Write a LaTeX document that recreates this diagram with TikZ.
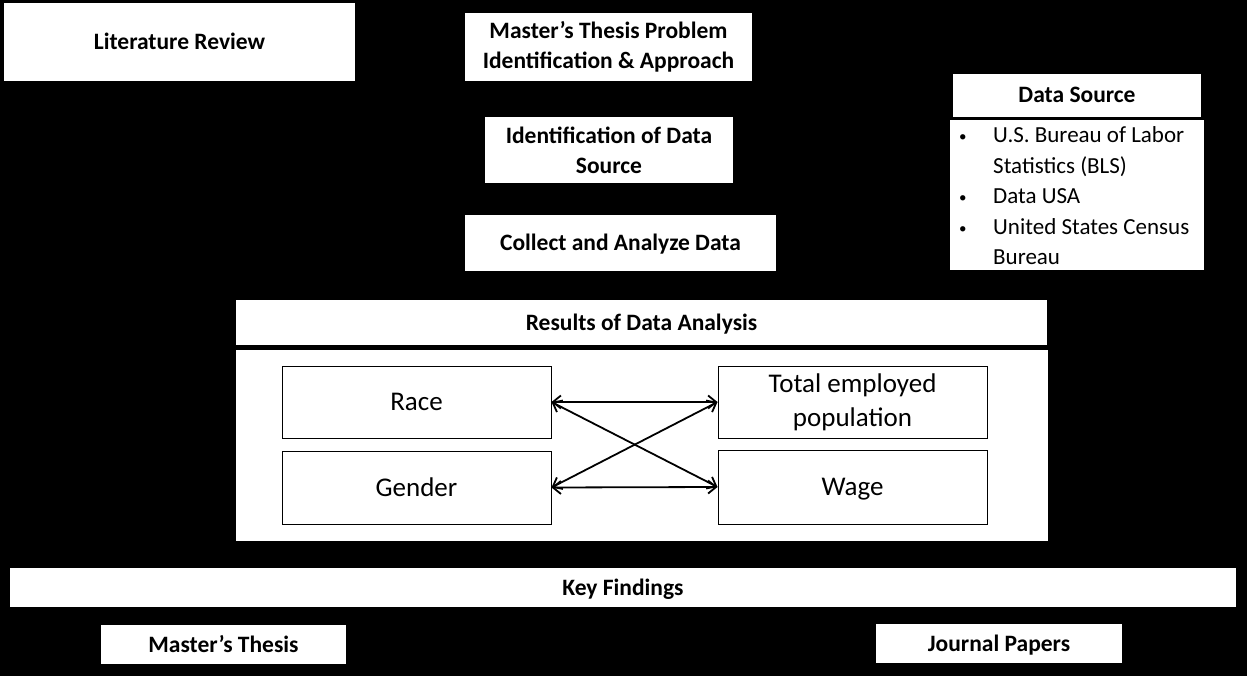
\documentclass[tikz,border=0pt]{standalone}
\usepackage{fontspec}
\setmainfont{Carlito}
\usetikzlibrary{arrows.meta}
\newcommand{\smallbul}{\raisebox{1pt}{\fontsize{15}{15}\selectfont\textbullet}}
\begin{document}
\begin{tikzpicture}[x=1pt,y=-1pt,
  wbox/.style={fill=white, draw=none, inner sep=0pt, align=center, font=\bfseries\fontsize{23.5}{30}\selectfont},
  oneline/.style={text height=15pt, text depth=0pt},
  ibox/.style={fill=white, draw=black, line width=1pt, inner sep=0pt, align=center, font=\fontsize{27}{34}\selectfont, minimum width=269pt, minimum height=72pt},
  link/.style={line width=1.8pt, {Straight Barb[length=8pt,width=13pt]}-{Straight Barb[length=8pt,width=13pt]}}]
\fill[black] (0,0) rectangle (1247,676);
\useasboundingbox (0,0) rectangle (1247,676);
\node[wbox, oneline, minimum width=351pt, minimum height=78pt] (lit) at (179.5,42) {Literature Review};
\node[wbox, minimum width=287pt, minimum height=68pt] (prob) at (608.5,47) {Master’s Thesis Problem\\Identification \& Approach};
\node[wbox, minimum width=248pt, minimum height=66pt] (ident) at (609,150) {Identification of Data\\Source};
\node[wbox, oneline, minimum width=311pt, minimum height=56pt] (coll) at (620.5,243) {Collect and Analyze Data};
\node[wbox, oneline, minimum width=248pt, minimum height=43pt] (dsh) at (1077,95.5) {Data Source};
\node[fill=white, inner sep=0pt, minimum width=254pt, minimum height=150pt] (dsb) at (1077,195) {};
\node[anchor=north west, inner sep=0pt, font=\fontsize{23}{30.5}\selectfont] (dsl) at (959,121)
  {\renewcommand\arraystretch{1}\begin{tabular}{@{}p{34pt}@{}l@{}}
  \smallbul & U.S. Bureau of Labor\\
   & Statistics (BLS)\\
  \smallbul & Data USA\\
  \smallbul & United States Census\\
   & Bureau
  \end{tabular}};
\node[wbox, oneline, minimum width=811pt, minimum height=45pt] (res) at (641.5,322.5) {Results of Data Analysis};
\node[fill=white, inner sep=0pt, minimum width=812pt, minimum height=191pt] (resb) at (642,445.5) {};
\node[ibox, text height=17.4pt, text depth=0pt] (race) at (416.5,402) {Race};
\node[ibox] (total) at (852.5,402) {Total employed\\population};
\node[ibox, text height=17.4pt, text depth=0pt, minimum height=73pt] (gender) at (416.5,487.5) {Gender};
\node[ibox, text height=17.4pt, text depth=0pt, minimum height=74pt] (wage) at (852.5,487) {Wage};
\draw[link] (race.east) -- (total.west);
\draw[link] (gender.east) -- (wage.west);
\draw[link] (race.east) -- (wage.west);
\draw[link] (gender.east) -- (total.west);
\node[wbox, oneline, minimum width=1226pt, minimum height=39pt] (key) at (623,587.5) {Key Findings};
\node[wbox, oneline, minimum width=245pt, minimum height=39pt] (mt) at (223.5,644.5) {Master’s Thesis};
\node[wbox, oneline, minimum width=246pt, minimum height=39pt] (jp) at (999,643.5) {Journal Papers};
\end{tikzpicture}
\end{document}
